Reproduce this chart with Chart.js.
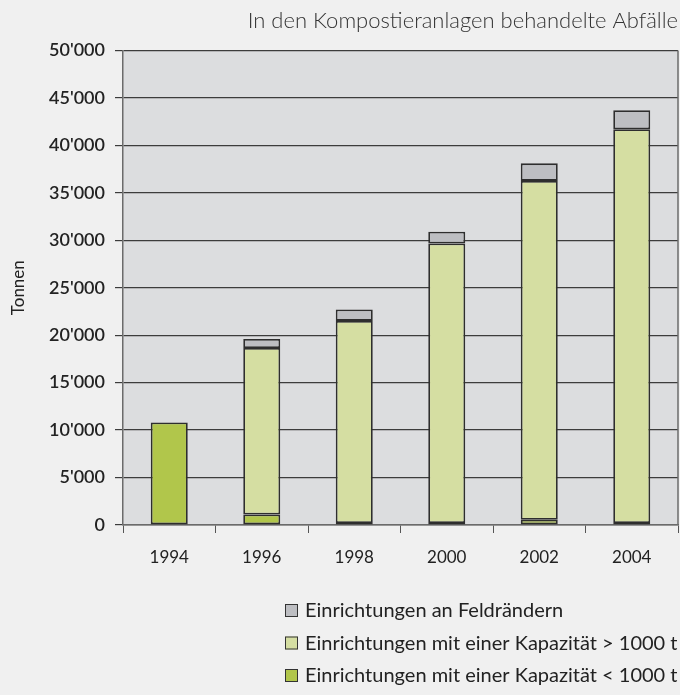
<!DOCTYPE html>
<html>
<head>
<meta charset="utf-8">
<script src="https://cdn.jsdelivr.net/npm/chart.js@4/dist/chart.umd.min.js"></script>
<style>
  html, body { margin: 0; padding: 0; background: #f0f0f0; }
  #wrap { width: 680px; height: 695px; }
</style>
</head>
<body>
<div id="wrap"><canvas id="kompost"></canvas></div>
<script>
// Jahre und Mengen (Tonnen)
const years = ['1994', '1996', '1998', '2000', '2002', '2004'];
const kleinAnlagen = [10800, 1100, 200, 200, 550, 200];        // Kapazität < 1000 t
const grossAnlagen = [null, 17550, 21300, 29450, 35700, 41500]; // Kapazität > 1000 t
const feldraender = [null, 950, 1200, 1250, 1850, 2000];       // an Feldrändern
const seriesLabels = [
  'Einrichtungen mit einer Kapazität < 1000 t',
  'Einrichtungen mit einer Kapazität > 1000 t',
  'Einrichtungen an Feldrändern'
];
const seriesColors = ['#b1c64b', '#d5dea2', '#bdbec2'];
const yTicks = [0, 5000, 10000, 15000, 20000, 25000, 30000, 35000, 40000, 45000, 50000];

const FONT = 'Lato, "Open Sans", sans-serif';

function fmt(v) {
  return String(v).replace(/\B(?=(\d{3})+(?!\d))/g, "'");
}

// grauer Hintergrund im Plotbereich + rechter Rahmen
const plotBg = {
  id: 'plotBg',
  beforeDraw(chart) {
    const { ctx, chartArea: a } = chart;
    ctx.save();
    ctx.fillStyle = '#dcdddf';
    ctx.fillRect(a.left, a.top, a.right - a.left, a.bottom - a.top);
    ctx.restore();
  },
  afterDatasetsDraw(chart) {
    const { ctx, chartArea: a } = chart;
    ctx.save();
    ctx.strokeStyle = '#6b6b6b';
    ctx.lineWidth = 1.5;
    ctx.beginPath();
    ctx.moveTo(a.right, a.top);
    ctx.lineTo(a.right, a.bottom);
    ctx.stroke();
    ctx.restore();
  }
};

// Legende untereinander, umgekehrte Reihenfolge
const stackLegend = {
  id: 'stackLegend',
  afterDraw(chart) {
    const ctx = chart.ctx;
    const ds = chart.data.datasets.slice().reverse();
    ctx.save();
    ctx.font = '20px ' + FONT;
    ctx.textBaseline = 'middle';
    ds.forEach((d, i) => {
      const y = 610 + i * 32.5;
      ctx.fillStyle = d.backgroundColor;
      ctx.fillRect(285, y - 6, 13, 13);
      ctx.strokeStyle = '#333';
      ctx.lineWidth = 1;
      ctx.strokeRect(285.5, y - 5.5, 12, 12);
      ctx.fillStyle = '#222';
      ctx.fillText(d.label, 305, y + 1);
    });
    ctx.restore();
  }
};

const datasets = [kleinAnlagen, grossAnlagen, feldraender].map((vals, i) => ({
  label: seriesLabels[i],
  data: vals,
  backgroundColor: seriesColors[i],
  borderColor: '#2e2e2e',
  borderWidth: 1.8,
  borderSkipped: false,
  categoryPercentage: 0.8,
  barPercentage: 0.5
}));

new Chart(document.getElementById('kompost'), {
  type: 'bar',
  data: { labels: years, datasets: datasets },
  options: {
    responsive: true,
    maintainAspectRatio: false,
    animation: false,
    layout: { padding: { left: 0, right: 2, top: 0, bottom: 128 } },
    plugins: {
      legend: { display: false },
      tooltip: { enabled: false },
      title: {
        display: true,
        text: 'In den Kompostieranlagen behandelte Abfälle',
        align: 'end',
        color: '#333',
        font: { family: FONT, size: 22, weight: '300' },
        padding: { top: 8, bottom: 16 }
      }
    },
    scales: {
      x: {
        stacked: true,
        border: { display: true, color: '#6b6b6b', width: 1.5 },
        grid: { drawOnChartArea: false, drawTicks: true, tickLength: 8, color: '#555', offset: true },
        ticks: { color: '#222', font: { family: FONT, size: 17 }, padding: 14 },
        afterFit(s) { s.height = 42; }
      },
      y: {
        stacked: true,
        min: 0,
        max: 50000,
        afterBuildTicks(s) { s.ticks = yTicks.map(v => ({ value: v })); },
        border: { display: true, color: '#6b6b6b', width: 1.5 },
        grid: { color: '#3c3c3c', lineWidth: 1.2, tickLength: 8 },
        ticks: {
          color: '#222',
          font: { family: FONT, size: 18, weight: '600' },
          padding: 10,
          callback: v => fmt(v)
        },
        title: {
          display: true,
          text: 'Tonnen',
          color: '#222',
          font: { family: FONT, size: 17 },
          padding: { top: 8, bottom: 0 }
        },
        afterFit(s) { s.width = 123; }
      }
    }
  },
  plugins: [plotBg, stackLegend]
});
</script>
</body>
</html>
